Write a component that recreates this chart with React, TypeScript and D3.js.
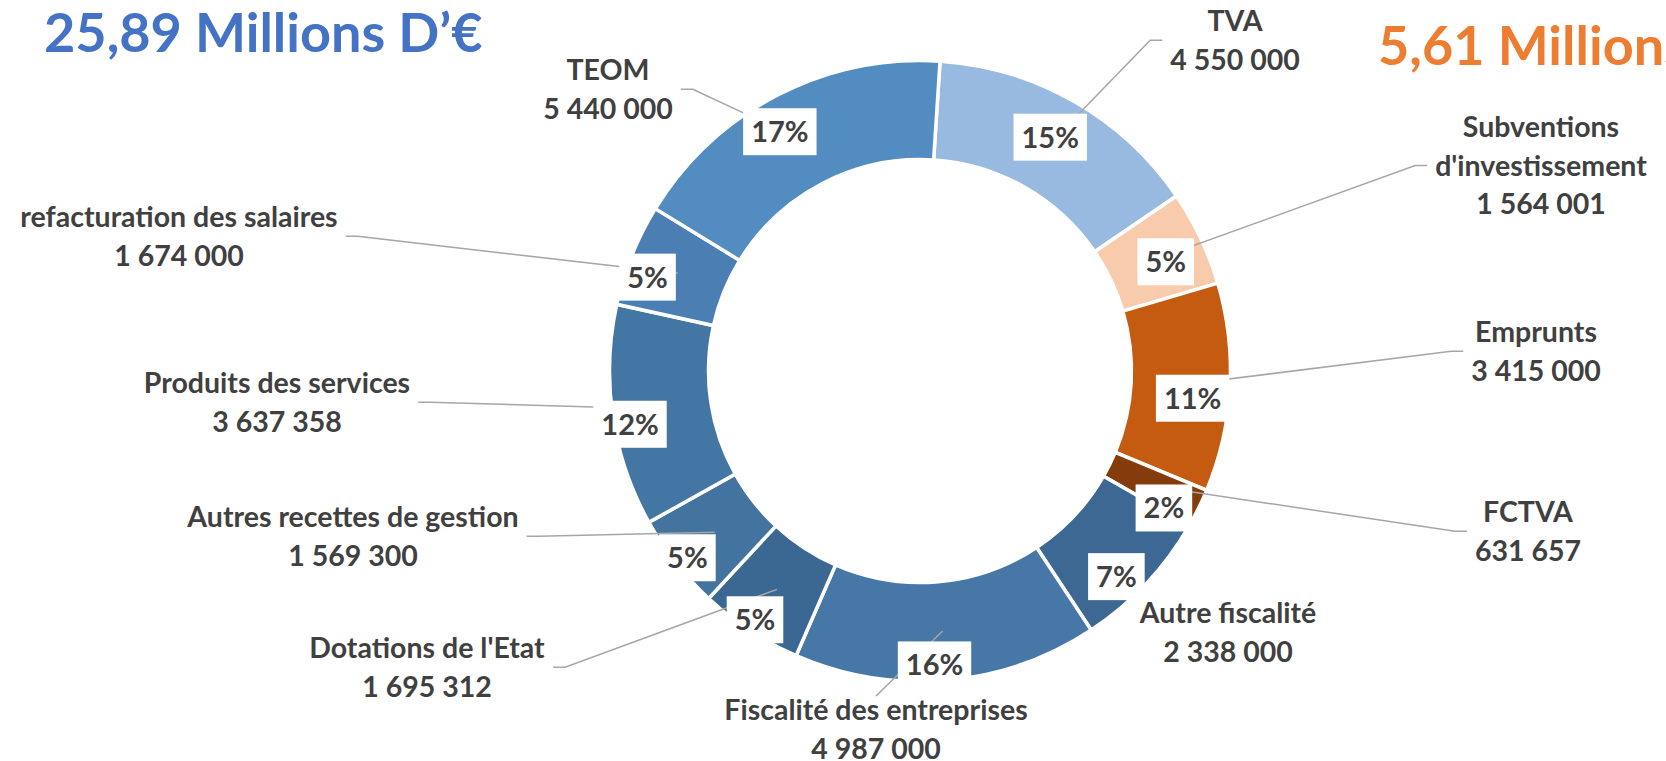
import React, { useEffect, useRef } from 'react';
import * as d3 from 'd3';

// data
const categories = [
  'TVA',
  "Subventions\nd'investissement",
  'Emprunts',
  'FCTVA',
  'Autre fiscalité',
  'Fiscalité des entreprises',
  "Dotations de l'Etat",
  'Autres recettes de gestion',
  'Produits des services',
  'refacturation des salaires',
  'TEOM',
];
const amounts = [4550000, 1564001, 3415000, 631657, 2338000, 4987000, 1695312, 1569300, 3637358, 1674000, 5440000];
const percentLabels = ['15%', '5%', '11%', '2%', '7%', '16%', '5%', '5%', '12%', '5%', '17%'];
const titleLeft = '25,89 Millions D’€';
const titleRight = '5,61 Millions D’€';

// styles
const sliceColors = [
  '#98B9E0', '#F8CBAD', '#C55A11', '#843C0C', '#3C6893',
  '#4677A6', '#3B6892', '#43739F', '#4476A4', '#4B7FB4', '#538CC1',
];
// label block anchors, relative to the donut centre (x = centre of text, y = first baseline)
const labelLayout = [
  { dx: 315, dy: -340, side: 'left' },
  { dx: 621, dy: -234, side: 'left' },
  { dx: 616, dy: -29, side: 'left' },
  { dx: 608, dy: 151, side: 'left' },
  { dx: 308, dy: 252, side: 'none' },
  { dx: -44, dy: 349, side: 'top' },
  { dx: -493, dy: 287, side: 'right' },
  { dx: -567, dy: 156, side: 'right' },
  { dx: -643, dy: 22, side: 'right' },
  { dx: -741, dy: -144, side: 'right' },
  { dx: -312, dy: -291, side: 'right' },
];

const W = 1666;
const H = 761;
const FONT = 'Lato, "Noto Sans", sans-serif';
const TEXT = '#404040';

const fr = d3.formatLocale({ decimal: ',', thousands: '\u00a0', grouping: [3], currency: ['', '€'] });
const fmt = fr.format(',d');

const Donut = () => {
  const ref = useRef<SVGSVGElement>(null);

  useEffect(() => {
    const svg = d3.select(ref.current);
    svg.selectAll('*').remove();

    const cx = 920;
    const cy = 371;
    const outerR = 310.5;
    const innerR = 211.5;
    const start = (3.7 * Math.PI) / 180;

    const data = amounts.map((v, i) => ({ v, i }));
    const pie = d3
      .pie<{ v: number; i: number }>()
      .value(d => d.v)
      .sort(null)
      .startAngle(start)
      .endAngle(start + 2 * Math.PI);
    const arcs = pie(data);

    const arc = d3.arc<d3.PieArcDatum<{ v: number; i: number }>>().innerRadius(innerR).outerRadius(outerR);
    const mid = (innerR + outerR) / 2;
    const centroid = (a: d3.PieArcDatum<any>) => {
      const ang = (a.startAngle + a.endAngle) / 2;
      return [cx + mid * Math.sin(ang), cy - mid * Math.cos(ang)];
    };

    // titles
    svg
      .append('text')
      .attr('x', 44)
      .attr('y', 52)
      .attr('font-family', FONT)
      .attr('font-weight', 700)
      .attr('font-size', 54)
      .attr('fill', '#4472C4')
      .text(titleLeft);
    svg
      .append('text')
      .attr('x', 1378)
      .attr('y', 65)
      .attr('font-family', FONT)
      .attr('font-weight', 700)
      .attr('font-size', 54)
      .attr('fill', '#ED7D31')
      .text(titleRight);

    // slices
    const g = svg.append('g').attr('transform', `translate(${cx},${cy})`);
    g.selectAll('path')
      .data(arcs)
      .enter()
      .append('path')
      .attr('d', arc)
      .attr('fill', d => sliceColors[d.data.i])
      .attr('stroke', '#fff')
      .attr('stroke-width', 3.5);

    // category labels
    const lineStep = 38.5;
    const leaders = svg.append('g');
    const labels = svg.append('g');
    arcs.forEach(a => {
      const i = a.data.i;
      const lay = labelLayout[i];
      const lines = [...categories[i].split('\n'), fmt(a.data.v)];
      const lx = cx + lay.dx;
      const ly = cy + lay.dy;
      const t = labels
        .append('text')
        .attr('font-family', FONT)
        .attr('font-weight', 700)
        .attr('font-size', 28.5)
        .attr('fill', TEXT)
        .attr('text-anchor', 'middle');
      lines.forEach((s, k) => {
        t.append('tspan').attr('x', lx).attr('y', ly + k * lineStep).text(s);
      });
      if (lay.side === 'none') return;
      const bb = (t.node() as SVGTextElement).getBBox();
      const [px, py] = centroid(a);
      const midY = ly + ((lines.length - 1) * lineStep) / 2 - 10;
      let pts: [number, number][];
      if (lay.side === 'top') {
        pts = [[lx, bb.y + 4], [px, py]];
      } else if (lay.side === 'left') {
        const x0 = bb.x - 8;
        pts = [[x0, midY], [x0 - 12, midY], [px, py]];
      } else {
        const x0 = bb.x + bb.width + 8;
        pts = [[x0, midY], [x0 + 12, midY], [px, py]];
      }
      leaders
        .append('path')
        .attr('d', d3.line()(pts))
        .attr('fill', 'none')
        .attr('stroke', '#A6A6A6')
        .attr('stroke-width', 1.5);
    });

    // percent boxes
    const boxR = 283;
    arcs.forEach(a => {
      const ang = (a.startAngle + a.endAngle) / 2;
      const bx = cx + boxR * Math.sin(ang) - 10;
      const by = cy - boxR * Math.cos(ang) + 12;
      const bg = svg.append('g');
      const rect = bg.append('rect').attr('fill', '#fff');
      const t = bg
        .append('text')
        .attr('x', bx)
        .attr('y', by)
        .attr('dy', '0.36em')
        .attr('text-anchor', 'middle')
        .attr('font-family', FONT)
        .attr('font-weight', 700)
        .attr('font-size', 29)
        .attr('fill', TEXT)
        .text(percentLabels[a.data.i]);
      const w = (t.node() as SVGTextElement).getComputedTextLength() + 16;
      rect
        .attr('x', bx - w / 2)
        .attr('y', by - 23.5)
        .attr('width', w)
        .attr('height', 47);
    });
  }, []);

  return <svg ref={ref} width={W} height={H} style={{ position: 'absolute', left: 0, top: 0, background: '#fff' }} />;
};

export default function App() {
  return <Donut />;
}
